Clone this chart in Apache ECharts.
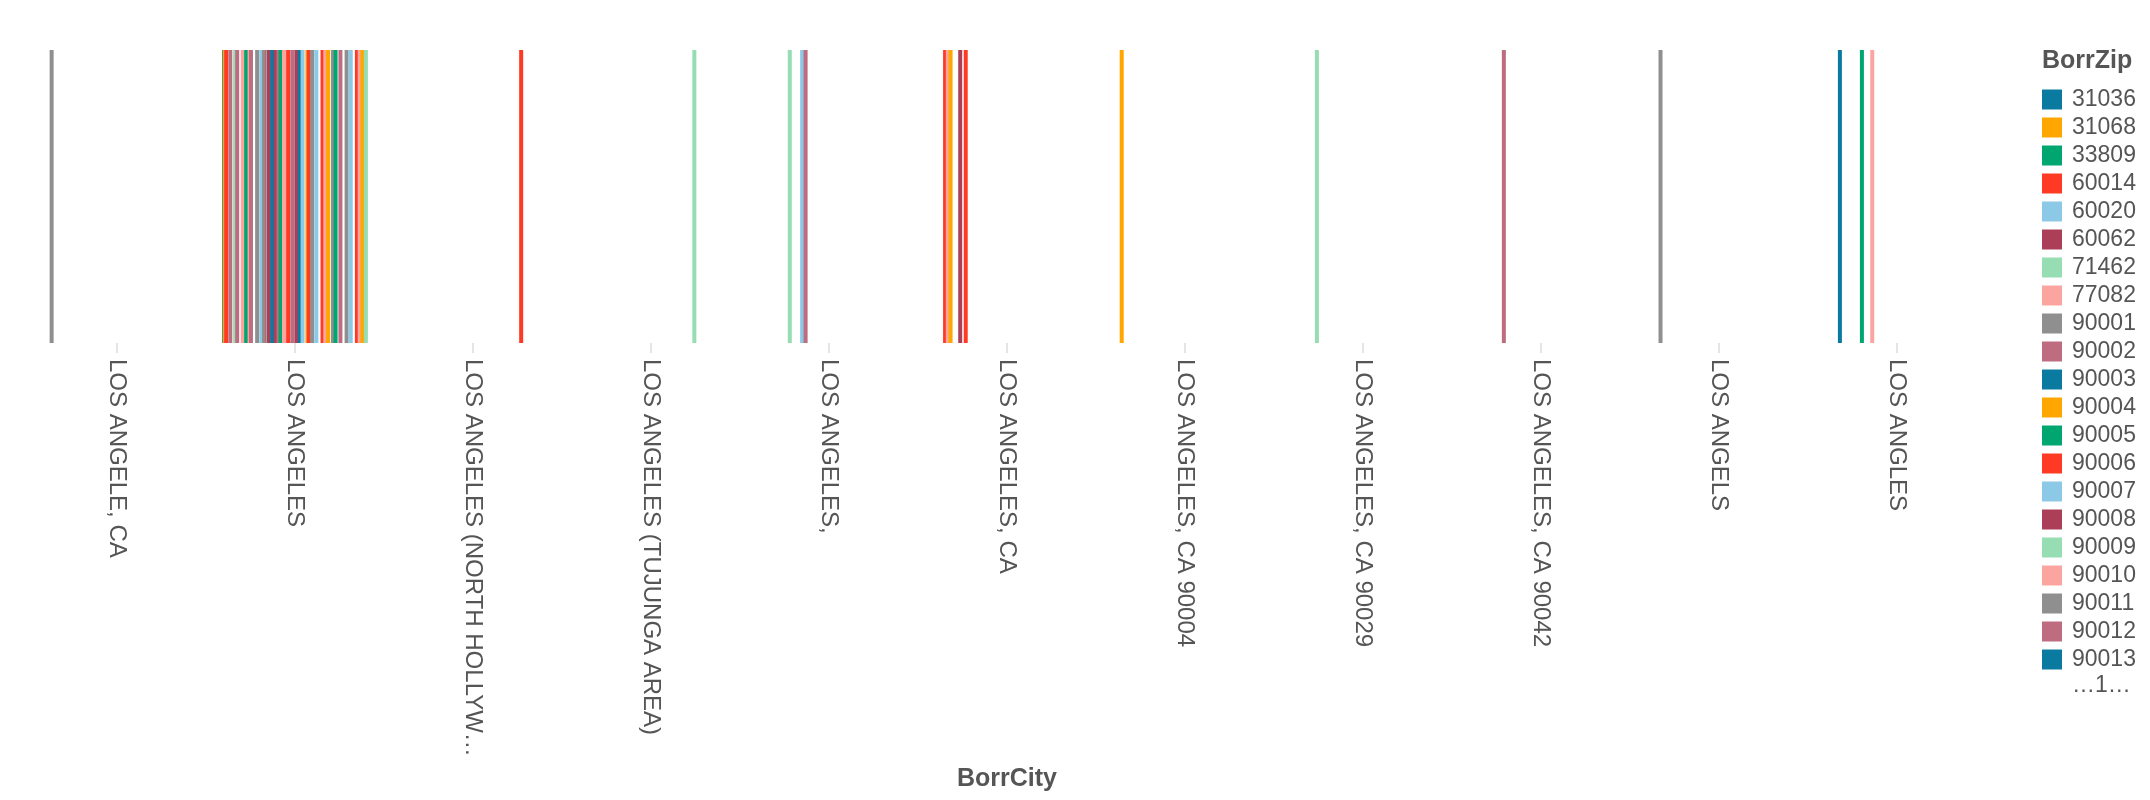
<!DOCTYPE html>
<html>
<head>
<meta charset="utf-8">
<script src="https://cdn.jsdelivr.net/npm/echarts@6/dist/echarts.min.js"></script>
<style>
html,body{margin:0;padding:0;background:#fff;}
#chart{width:2150px;height:800px;}
</style>
</head>
<body>
<div id="chart"></div>
<script>
// ---- data ----
const cities = [
  "LOS ANGELE, CA", "LOS ANGELES", "LOS ANGELES (NORTH HOLLYWOOD)", "LOS ANGELES (TUJUNGA AREA)",
  "LOS ANGELES,", "LOS ANGELES, CA", "LOS ANGELES, CA 90004", "LOS ANGELES, CA 90029",
  "LOS ANGELES, CA 90042", "LOS ANGELS", "LOS ANGLES"
];

// BorrZip domain (sorted), used for both colour and offset within each city band
const zips = [
  "31036","31068","33809","60014","60020","60062","71462","77082",
  "90001","90002","90003","90004","90005","90006","90007","90008","90009","90010",
  "90011","90012","90013","90014","90015","90016","90017","90018","90019","90020",
  "90021","90022","90023","90024","90025","90026","90027","90028","90029","90030",
  "90031","90032","90033","90034","90035","90036","90037","90038","90039","90040",
  "90041","90042","90043","90044","90045","90046","90047","90048","90049","90050",
  "90051","90052","90053","90054","90055","90056","90057","90058","90059","90060",
  "90061","90062","90063","90064","90065","90066","90067","90068","90069","90070",
  "90071","90072","90073","90074","90075","90076","90077","90078","90079","90080",
  "90081","90082","90083","90084","90085","90086","90087","90088","90089","90090",
  "90091","90092","90093","90094","90095","90096","90097","90098","90099",
  "90201","90210","90211","90212","90220","90221","90230","90232","90240","90241",
  "90242","90245","90247","90248","90249","90250","90254","90255","90260","90262",
  "90265","90266","90270","90272","90274","90275","90277","90278","90280","90290",
  "90291","90292","90293","90301","90302","90303","90304","90305","90401","90402",
  "90403","90404","90405","90501","90502","90503","90601","90602","90640","90650",
  "90660","90701","90731","90732","90744","90802","90810","91001","91011",
  "91042","91303","91304","91306","91307","91311","91316","91601",
  "91602","91604","91605","91606","91607","91706","91731","91732","91744","91746",
  "91754","91755","91765","91770","91776","91780","91790","91801","91803","92101",
  "92201","92335","92504","92627","92701","92804","93003","93065","93101","93401",
  "93534","93550","94103"
];

// zips found in each city
const zipsLosAngeleCa = ["90001"];
const zipsLosAngeles = [
  "31036","31068","60014","90002","90009","90012","90020","90025","90030","90032",
  "90041","90047","90051","90056","90057","90058","90063","90068","90072","90075",
  "90080","90086","90092","90098","90212","90232","90249","90254","90266","90278",
  "90304","90403","90502","90701","90802","91306","91607","91754","92101","92627",
  "93065","94103"
];
const zipsNorthHollywood = ["91601"];
const zipsTujunga = ["91042"];
const zipsLosAngelesComma = ["90039","90057","90062"];
const zipsLosAngelesCa = ["90006","90010","90014","90028","90036"];
const zipsCa90004 = ["90004"];
const zipsCa90029 = ["90029"];
const zipsCa90042 = ["90042"];
const zipsLosAngels = ["90011"];
const zipsLosAngles = ["90013","90045","90060"];

const presentValue = 1;          // bar spans the full height (no y encoding)
const legendShownCount = 21;     // legend entries before the overflow note
const legendOverflowLabel = "…1…";

// ---- styling ----
const palette = ["#0b7aa0","#ffa600","#00a66f","#ff3a24","#8cc9e6","#aa3f57","#97ddb3","#fca5a0","#8f8f8f","#bd6d7f"];
const FONT = "'Liberation Sans', Arial, Helvetica, sans-serif";
const TXT = "#555";

const cityZipLists = [
  zipsLosAngeleCa, zipsLosAngeles, zipsNorthHollywood, zipsTujunga, zipsLosAngelesComma,
  zipsLosAngelesCa, zipsCa90004, zipsCa90029, zipsCa90042, zipsLosAngels, zipsLosAngles
];

const series = zips.map(z => ({
  name: z,
  type: 'bar',
  barWidth: 4,
  barGap: '-82.8%',
  data: cityZipLists.map(list => list.includes(z) ? presentValue : '-'),
  emphasis: { disabled: true },
  animation: false
}));

const chart = echarts.init(document.getElementById('chart'), null, { renderer: 'canvas' });
chart.setOption({
  animation: false,
  color: palette,
  textStyle: { fontFamily: FONT },
  title: {
    text: 'BorrZip', left: 2042, top: 49, padding: 0,
    textStyle: { fontSize: 25, fontWeight: 'bold', color: TXT, fontFamily: FONT }
  },
  legend: {
    data: zips.slice(0, legendShownCount),
    orient: 'vertical', left: 2042, top: 88, padding: 0,
    itemWidth: 20, itemHeight: 20, itemGap: 5, icon: 'rect',
    selectedMode: false,
    textStyle: { fontSize: 23, color: TXT, fontFamily: FONT, padding: [0, 0, 0, 5] }
  },
  graphic: [{
    type: 'text', left: 2072, top: 674,
    style: { text: legendOverflowLabel, fontSize: 23, fill: TXT, fontFamily: FONT }
  }],
  grid: { left: 28, right: 164, top: 50, bottom: 457, containLabel: false, outerBoundsMode: 'none' },
  xAxis: {
    type: 'category',
    data: cities,
    name: 'BorrCity',
    nameLocation: 'middle',
    nameGap: 424,
    nameTextStyle: { fontSize: 25, fontWeight: 'bold', color: TXT, fontFamily: FONT },
    axisLine: { show: false },
    axisTick: { show: true, alignWithLabel: true, length: 10, lineStyle: { color: '#dddddd', width: 1.5 } },
    axisLabel: {
      rotate: -90, interval: 0, fontSize: 24, color: TXT, fontFamily: FONT, margin: 16,
      width: 414, overflow: 'truncate', ellipsis: '…'
    },
    splitLine: { show: false }
  },
  yAxis: { type: 'value', min: 0, max: 1, show: false, splitLine: { show: false } },
  tooltip: { show: false },
  series: series
});
</script>
</body>
</html>
